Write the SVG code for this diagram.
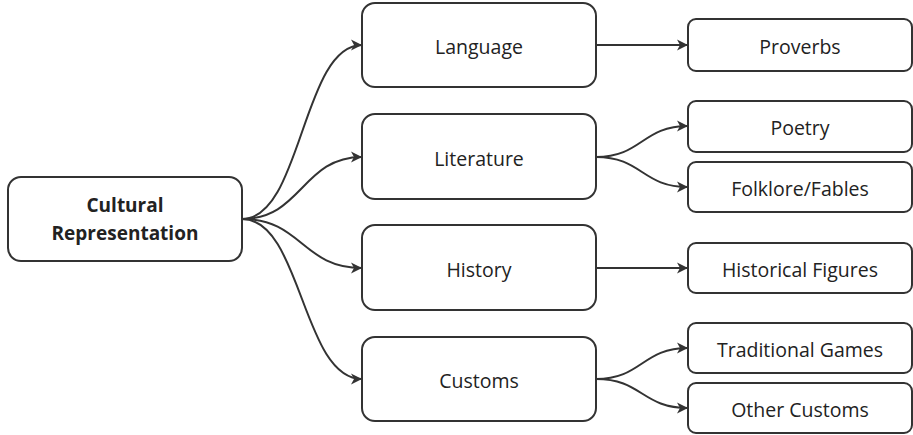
<svg xmlns="http://www.w3.org/2000/svg" width="913" height="435" viewBox="0 0 913 435">
<style>
.box{fill:#fff;stroke:#333;stroke-width:2}
.t{font-family:"Open Sans","Noto Sans",sans-serif;font-size:19.5px;fill:#222;text-anchor:middle;dominant-baseline:central}
.b{font-weight:bold;font-size:19px}
.c{fill:none;stroke:#333;stroke-width:2}
</style>
<defs>
<marker id="ah" markerUnits="userSpaceOnUse" markerWidth="12" markerHeight="12" viewBox="0 0 12 12" refX="11" refY="6" orient="auto">
<path d="M0,0.5 L11,6 L0,11.5 L3,6 Z" fill="#333"/>
</marker>
</defs>
<rect width="913" height="435" fill="#fff"/>
<g id="connectors">
<path class="c" marker-end="url(#ah)" d="M242,219 C302,219 302,45 362,45"/>
<path class="c" marker-end="url(#ah)" d="M242,219 C302,219 302,157 362,157"/>
<path class="c" marker-end="url(#ah)" d="M242,219 C302,219 302,268 362,268"/>
<path class="c" marker-end="url(#ah)" d="M242,219 C302,219 302,379 362,379"/>
<path class="c" marker-end="url(#ah)" d="M596,45 L688,45"/>
<path class="c" marker-end="url(#ah)" d="M596,157 C642,157 642,126 688,126"/>
<path class="c" marker-end="url(#ah)" d="M596,157 C642,157 642,187 688,187"/>
<path class="c" marker-end="url(#ah)" d="M596,268 L688,268"/>
<path class="c" marker-end="url(#ah)" d="M596,379 C642,379 642,348 688,348"/>
<path class="c" marker-end="url(#ah)" d="M596,379 C642,379 642,408 688,408"/>
</g>
<g id="root"><rect class="box" x="8" y="177" width="234" height="84" rx="13"/><text class="t b" x="125" y="205">Cultural</text><text class="t b" x="125" y="233">Representation</text></g>
<g id="language"><rect class="box" x="362" y="3" width="234" height="84" rx="13"/><text class="t" x="479" y="46">Language</text></g>
<g id="literature"><rect class="box" x="362" y="114" width="234" height="85" rx="13"/><text class="t" x="479" y="158">Literature</text></g>
<g id="history"><rect class="box" x="362" y="225" width="234" height="85" rx="13"/><text class="t" x="479" y="269">History</text></g>
<g id="customs"><rect class="box" x="362" y="337" width="234" height="84" rx="13"/><text class="t" x="479" y="380">Customs</text></g>
<g id="proverbs"><rect class="box" x="688" y="19" width="224" height="52" rx="8"/><text class="t" x="800" y="46">Proverbs</text></g>
<g id="poetry"><rect class="box" x="688" y="101" width="224" height="51" rx="8"/><text class="t" x="800" y="127">Poetry</text></g>
<g id="folklore"><rect class="box" x="688" y="162" width="224" height="50" rx="8"/><text class="t" x="800" y="188">Folklore/Fables</text></g>
<g id="historical-figures"><rect class="box" x="688" y="243" width="224" height="50" rx="8"/><text class="t" x="800" y="269">Historical Figures</text></g>
<g id="traditional-games"><rect class="box" x="688" y="323" width="224" height="50" rx="8"/><text class="t" x="800" y="349">Traditional Games</text></g>
<g id="other-customs"><rect class="box" x="688" y="383" width="224" height="50" rx="8"/><text class="t" x="800" y="409">Other Customs</text></g>
</svg>
